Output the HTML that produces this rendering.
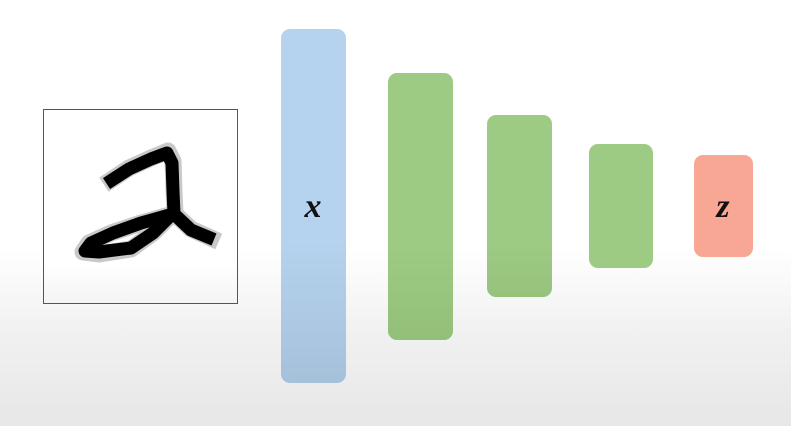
<!DOCTYPE html>
<html><head><meta charset="utf-8"><style>
html,body{margin:0;padding:0}
body{width:791px;height:426px;position:relative;overflow:hidden;
background:linear-gradient(to bottom,#ffffff 0px,#ffffff 250px,#f1f1f1 330px,#e7e7e7 426px);}
.blk{position:absolute;border-radius:9px}
.lbl{position:absolute;font-family:"Liberation Serif","DejaVu Serif",serif;font-style:italic;font-weight:bold;font-size:34px;color:#111;transform:translate(-50%,-50%)}
</style></head><body>
<div style="position:absolute;left:43px;top:109px;width:193px;height:193px;border:1px solid #555;background:linear-gradient(#fff 80%,#f4f4f4);">
<svg width="193" height="193" viewBox="43 109 193 193" style="position:absolute;left:0;top:0">
<g fill="none" stroke="#888" stroke-width="17" stroke-linecap="square" stroke-linejoin="round" opacity="0.45">
<path d="M110 179 L128 167 L150 157 L167 150 L172 160 L173 190 L174 213 L190 228 L210 237"/>
<path d="M172 213 L140 222 L110 232 L88 242 L82 251 L98 253 L130 248 L152 232 L165 219"/>
</g>
<g fill="none" stroke="#000" stroke-width="13" stroke-linecap="square" stroke-linejoin="round">
<path d="M111 179 L128 168 L150 158 L166 152 L171 162 L172 190 L173 213 L190 229 L207 236"/>
<path d="M172 213 L140 222 L112 232 L90 242 L84 250 L98 251 L130 247 L152 232 L165 219"/>
</g>
</svg>
</div>
<div class="blk" style="left:281px;top:29px;width:65px;height:354px;background:linear-gradient(#b5d3ee 0%,#b5d3ee 60%,#a6c0da 100%)"></div>
<div class="lbl" style="left:313px;top:207px">x</div>
<div class="blk" style="left:388px;top:73px;width:65px;height:267px;background:linear-gradient(#9ecb83 0%,#9ecb83 65%,#93bf79 100%)"></div>
<div class="blk" style="left:487px;top:115px;width:65px;height:182px;background:linear-gradient(#9ecb83 0%,#9ecb83 70%,#96c27c 100%)"></div>
<div class="blk" style="left:589px;top:144px;width:64px;height:124px;background:#9ecb83"></div>
<div class="blk" style="left:694px;top:155px;width:59px;height:102px;background:#f9a795"></div>
<div class="lbl" style="left:723px;top:207px">z</div>
</body></html>
